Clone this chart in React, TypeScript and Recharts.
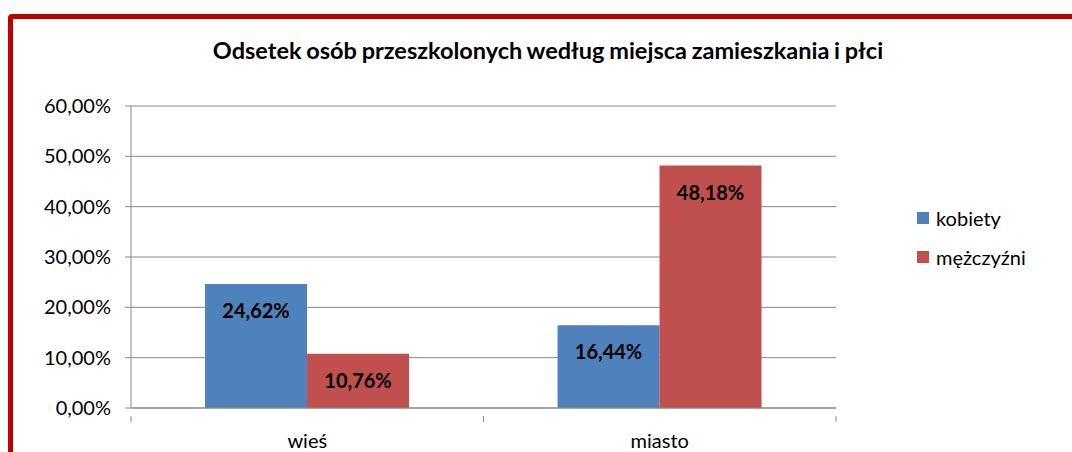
import { Bar, BarChart, CartesianGrid, LabelList, XAxis, YAxis } from 'recharts'

const categories = ['wieś', 'miasto']
const kobiety = [24.62, 16.44]
const mezczyzni = [10.76, 48.18]
const yTicks = [0, 10, 20, 30, 40, 50, 60]

const chartData = categories.map((name, i) => ({
  name,
  kobiety: kobiety[i],
  mezczyzni: mezczyzni[i],
}))

const FONT = 'Lato, "Open Sans", sans-serif'
const W = 1072
const H = 452
const margin = { top: 106, right: 236, left: 0, bottom: 0 }
const yAxisWidth = 131
const plotLeft = margin.left + yAxisWidth
const plotRight = W - margin.right
const band = (plotRight - plotLeft) / categories.length

const fmt = (v: number) => v.toFixed(2).replace('.', ',') + '%'

const CategoryTick = (props: any) => {
  const { x, y, payload, index } = props
  return (
    <g>
      <line x1={x - band / 2} x2={x - band / 2} y1={y} y2={y + 6} stroke='#878787' />
      {index === categories.length - 1 && (
        <line x1={x + band / 2} x2={x + band / 2} y1={y} y2={y + 6} stroke='#878787' />
      )}
      <text x={x} y={y + 27} textAnchor='middle' dominantBaseline='middle' fontSize={20} fill='#000' fontFamily={FONT}>
        {payload.value}
      </text>
    </g>
  )
}

const BarLabel = (props: any) => {
  const { x, y, width, value } = props
  return (
    <text x={x + width / 2} y={y + 29} textAnchor='middle' dominantBaseline='middle' fontSize={20} fontWeight='bold' fill='#000' fontFamily={FONT}>
      {fmt(value)}
    </text>
  )
}

const legendItems = [
  { label: 'kobiety', color: '#4f81bd' },
  { label: 'mężczyźni', color: '#c0504d' },
]

export default function App() {
  return (
    <div style={{ position: 'absolute', left: 0, top: 0, width: W, height: H, overflow: 'hidden', background: '#fff', fontFamily: FONT }}>
      <div
        style={{
          position: 'absolute',
          left: 8,
          top: 14,
          width: W + 40,
          height: H + 40,
          border: '5px solid #c00000',
          borderRadius: 4,
          boxSizing: 'border-box',
        }}
      />
      <div
        style={{
          position: 'absolute',
          left: 0,
          top: 35,
          width: 1096,
          textAlign: 'center',
          fontSize: 23.5,
          fontWeight: 'bold',
          color: '#000',
          lineHeight: '30px',
          wordSpacing: -1,
        }}
      >
        Odsetek osób przeszkolonych według miejsca zamieszkania i płci
      </div>
      <div style={{ position: 'absolute', left: 0, top: 0 }}>
        <BarChart width={W} height={H} data={chartData} margin={margin} barCategoryGap='21%' barGap={0}>
          <CartesianGrid vertical={false} stroke='#878787' />
          <XAxis
            dataKey='name'
            height={44}
            axisLine={{ stroke: '#878787' }}
            tickLine={false}
            tick={<CategoryTick />}
            interval={0}
          />
          <YAxis
            width={yAxisWidth}
            domain={[0, 60]}
            ticks={yTicks}
            tickFormatter={fmt}
            axisLine={{ stroke: '#878787' }}
            tickLine={{ stroke: '#878787' }}
            tickSize={6}
            tickMargin={14}
            tick={{ fontSize: 20, fill: '#000', fontFamily: FONT }}
          />
          <Bar dataKey='kobiety' fill='#4f81bd' isAnimationActive={false}>
            <LabelList dataKey='kobiety' content={<BarLabel />} />
          </Bar>
          <Bar dataKey='mezczyzni' fill='#c0504d' isAnimationActive={false}>
            <LabelList dataKey='mezczyzni' content={<BarLabel />} />
          </Bar>
        </BarChart>
      </div>
      <div style={{ position: 'absolute', left: 917, top: 205 }}>
        {legendItems.map((it) => (
          <div key={it.label} style={{ display: 'flex', alignItems: 'center', height: 26, marginBottom: 13, fontSize: 20, color: '#000' }}>
            <span style={{ display: 'inline-block', width: 12, height: 12, background: it.color, marginRight: 7 }} />
            {it.label}
          </div>
        ))}
      </div>
    </div>
  )
}
